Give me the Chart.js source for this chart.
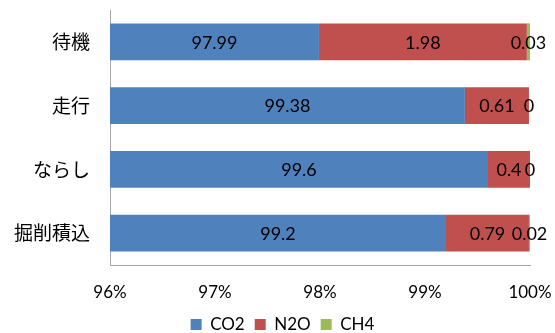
<!DOCTYPE html>
<html>
<head>
<meta charset="utf-8">
<script src="https://cdn.jsdelivr.net/npm/chart.js@4"></script>
<style>
  html, body { margin: 0; padding: 0; background: #fff; }
  #wrap { width: 555px; height: 333px; position: relative; }
</style>
</head>
<body>
<div id="wrap"><canvas id="c"></canvas></div>
<script>
// カテゴリと系列
const categories = ['待機', '走行', 'ならし', '掘削積込'];
const co2 = [97.99, 99.38, 99.6, 99.2];
const n2o = [1.98, 0.61, 0.4, 0.79];
const ch4 = [0.03, 0, 0, 0.02];
const xTicks = [96, 97, 98, 99, 100];

const latin = "Lato, 'Noto Sans CJK JP', sans-serif";

// 値ラベル(表示部分の中央)
const valueLabels = {
  id: 'valueLabels',
  afterDatasetsDraw(chart) {
    const { ctx, chartArea } = chart;
    ctx.save();
    ctx.font = '18px ' + latin;
    ctx.fillStyle = '#000';
    ctx.textAlign = 'center';
    ctx.textBaseline = 'middle';
    chart.data.datasets.forEach((ds, i) => {
      chart.getDatasetMeta(i).data.forEach((el, j) => {
        const a = Math.max(Math.min(el.x, el.base), chartArea.left);
        const b = Math.min(Math.max(el.x, el.base), chartArea.right);
        ctx.fillText(String(ds.data[j]), (a + b) / 2, el.y + 1);
      });
    });
    ctx.restore();
  }
};

const bar = { barPercentage: 0.58, categoryPercentage: 1 };

new Chart(document.getElementById('c'), {
  type: 'bar',
  data: {
    labels: categories,
    datasets: [
      { label: 'CO2', data: co2, backgroundColor: '#4F81BD', ...bar },
      { label: 'N2O', data: n2o, backgroundColor: '#C0504D', ...bar },
      { label: 'CH4', data: ch4, backgroundColor: '#9BBB59', ...bar },
    ],
  },
  options: {
    indexAxis: 'y',
    responsive: true, maintainAspectRatio: false,
    animation: false,
    layout: { padding: { top: 10, right: 0, left: 10, bottom: -10 } },
    plugins: {
      legend: {
        position: 'bottom',
        labels: { boxWidth: 11, boxHeight: 11, padding: 10, color: '#000', font: { size: 17, family: latin } },
      },
      tooltip: { enabled: false },
    },
    scales: {
      x: {
        stacked: true, min: 96, max: 100,
        grid: { display: false, drawTicks: false },
        border: { display: true, color: '#A6A6A6', width: 1 },
        afterBuildTicks: (s) => { s.ticks = xTicks.map((v) => ({ value: v })); },
        ticks: { callback: (v) => v + '%', color: '#000', padding: 17, maxRotation: 0, font: { size: 17, family: latin } },
        afterFit: (s) => { s.height = 41; s.paddingLeft = 0; s.paddingRight = 25; },
      },
      y: {
        stacked: true,
        grid: { display: false, drawTicks: false },
        border: { display: true, color: '#A6A6A6', width: 1 },
        ticks: { color: '#000', padding: 20, font: { size: 19, family: "'Noto Sans CJK JP', sans-serif" } },
        afterFit: (s) => { s.width = 100; s.paddingTop = 0; s.paddingBottom = 0; },
      },
    },
  },
  plugins: [valueLabels],
});
</script>
</body>
</html>
